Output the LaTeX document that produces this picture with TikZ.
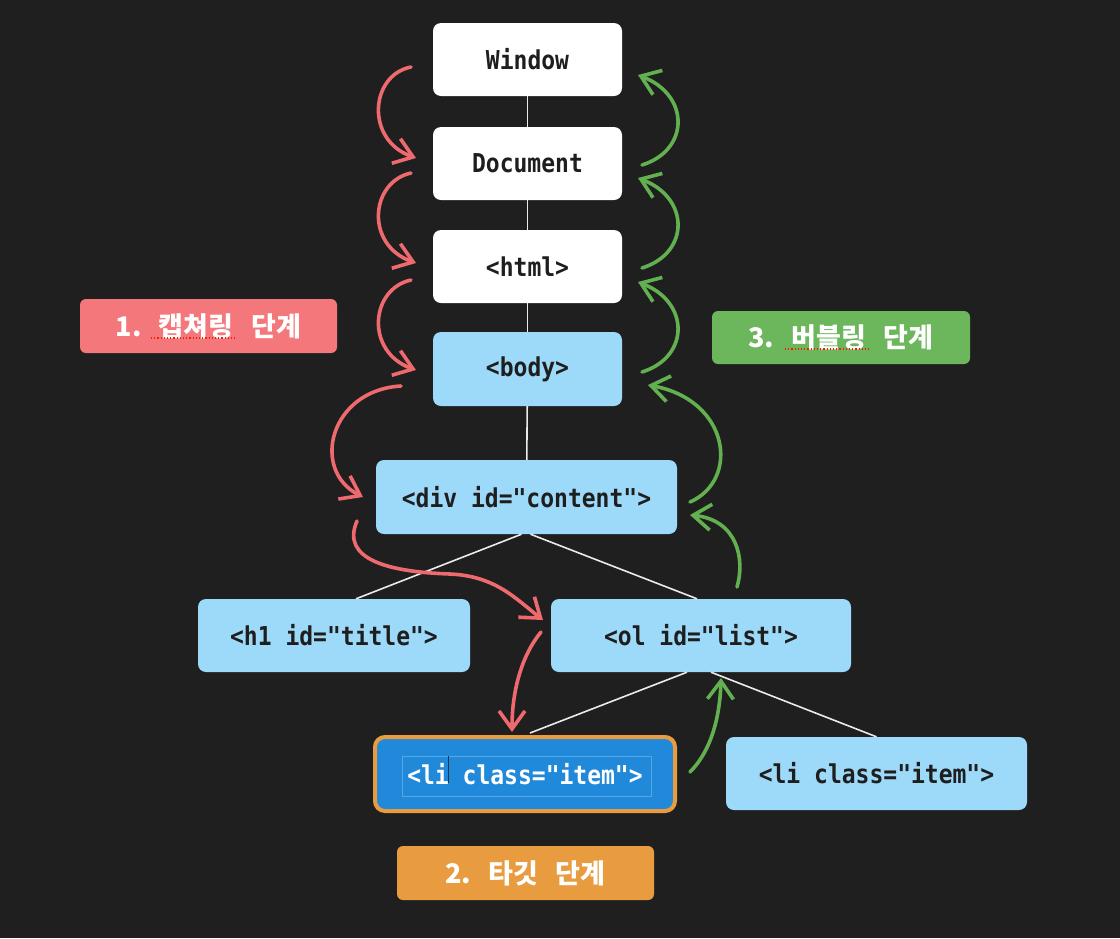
\documentclass[tikz,border=0pt]{standalone}
\usepackage{fontspec}
\setmonofont{DejaVu Sans Mono}
\newfontfamily\kr{Noto Sans CJK KR}
\usetikzlibrary{arrows.meta,calc}
\definecolor{bg}{HTML}{1F1F1F}
\definecolor{txt}{HTML}{1E1E1E}
\definecolor{lblue}{HTML}{9DDAFA}
\definecolor{tblue}{HTML}{2189D9}
\definecolor{tline}{HTML}{5AA6E4}
\definecolor{orng}{HTML}{E89C3F}
\definecolor{redl}{HTML}{F3777B}
\definecolor{redarrow}{HTML}{EE6A6E}
\definecolor{greenl}{HTML}{6CB65B}
\definecolor{greenarrow}{HTML}{62B04F}
\newcommand\tallt[1]{\scalebox{1}[1.13]{#1}}
\begin{document}
\begin{tikzpicture}[x=1pt,y=-1pt,
  box/.style={rounded corners=8pt, minimum height=73pt, inner sep=0pt,
    font=\ttfamily\bfseries\fontsize{23}{23}\selectfont, text=txt},
  wbox/.style={box, fill=white, minimum width=189pt},
  bbox/.style={box, fill=lblue},
  edge/.style={draw=white!92!black, line width=1.6pt},
  lab/.style={rounded corners=6pt, text=white, inner sep=0pt,
    font=\kr\bfseries\fontsize{27}{27}\selectfont, minimum width=257pt, minimum height=54pt},
  sketch/.style={line width=3.6pt, line cap=round, line join=round,
    -{Straight Barb[length=18pt,width=26pt]}},
  caparrow/.style={sketch, draw=redarrow},
  bubarrow/.style={sketch, draw=greenarrow},
  spell/.style={draw=red!80!orange, line width=1.2pt, dotted}
]
\fill[bg] (0,0) rectangle (1120,938);
\useasboundingbox (0,0) rectangle (1120,938);

% tree nodes
\node[wbox] (win) at (527.5,59.5) {\tallt{Window}};
\node[wbox] (doc) at (527.5,163.5) {\tallt{Document}};
\node[wbox] (html) at (527.5,266.5) {\tallt{<html>}};
\node[bbox, minimum width=189pt, minimum height=74pt] (body) at (527.5,369) {\tallt{<body>}};
\node[bbox, minimum width=301pt, minimum height=74pt] (div) at (526.5,497) {\tallt{<div id="content">}};
\node[bbox, minimum width=272pt] (h1) at (334,635.5) {\tallt{<h1 id="title">}};
\node[bbox, minimum width=300pt] (ol) at (701,635.5) {\tallt{<ol id="list">}};
\node[box, fill=tblue, draw=orng, line width=4pt, text=white, rounded corners=10pt,
  minimum width=300pt, minimum height=74pt] (li) at (525,774) {\tallt{<li class="item">}};
\node[bbox, minimum width=301pt] (li2) at (876.5,773.5) {\tallt{<li class="item">}};

% selection box and cursor inside target
\draw[tline, line width=0.8pt] ($(li.center)+(-123,-18)$) rectangle ($(li.center)+(126,22)$);
\draw[black!60!tblue, line width=0.8pt] ($(li.center)+(-77,-18)$) -- ($(li.center)+(-77,9)$);

% tree edges
\draw[edge] (win) -- (doc);
\draw[edge] (doc) -- (html);
\draw[edge] (html) -- (body);
\draw[edge] (body) -- (div);
\draw[edge] ($(div.south)+(-5,0)$) -- ($(h1.north)+(22,0)$);
\draw[edge] ($(div.south)+(4,0)$) -- ($(ol.north)+(-4,0)$);
\draw[edge] ($(ol.south)+(-14,0)$) -- ($(li.north)+(5,-2)$);
\draw[edge] ($(ol.south)+(10,0)$) -- (li2.north);

% phase labels
\node[lab, fill=redl] (l1) at (208.5,326) {1.\hspace{17pt}캡쳐링\hspace{18pt}단계};
\node[lab, fill=greenl, minimum width=258pt, minimum height=53pt] (l3) at (841,337.5) {3.\hspace{17pt}버블링\hspace{18pt}단계};
\node[lab, fill=orng] (l2) at (525.5,873) {2.\hspace{17pt}타깃\hspace{18pt}단계};
\draw[spell] (151,338) -- (236,338);
\draw[spell] (785,349) -- (869,349);

% capturing arrows (red)
\draw[caparrow] (411,67) .. controls (370,75) and (365,140) .. (416,158);
\draw[caparrow] (411,173) .. controls (370,182) and (365,245) .. (416,263);
\draw[caparrow] (411,280) .. controls (370,289) and (365,352) .. (416,370);
\draw[caparrow] (401,386) .. controls (330,390) and (310,470) .. (363,497);
\draw[caparrow] (357,521) .. controls (340,560) and (390,572) .. (450,574)
  .. controls (495,576) and (515,598) .. (543,620);
\draw[caparrow] (541,632) .. controls (522,655) and (512,690) .. (512,732);

% bubbling arrows (green)
\draw[bubarrow] (642,165) .. controls (690,150) and (690,95) .. (638,75);
\draw[bubarrow] (642,268) .. controls (690,253) and (690,198) .. (638,178);
\draw[bubarrow] (642,372) .. controls (690,357) and (690,302) .. (638,282);
\draw[bubarrow] (690,502) .. controls (740,480) and (730,400) .. (648,385);
\draw[bubarrow] (737,587) .. controls (745,560) and (738,520) .. (690,515);
\draw[bubarrow] (690,772) .. controls (712,750) and (720,715) .. (721,678);
\end{tikzpicture}
\end{document}
